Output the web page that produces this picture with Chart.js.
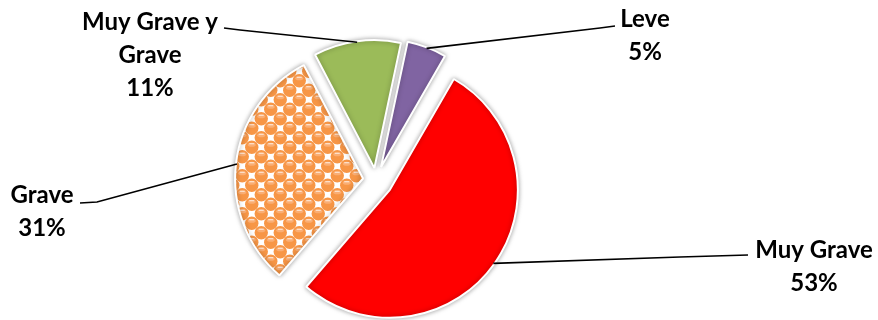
<!DOCTYPE html>
<html><head><meta charset="utf-8">
<script src="https://cdn.jsdelivr.net/npm/chart.js@4"></script>
<style>html,body{margin:0;padding:0;background:#fff}#wrap{width:878px;height:320px;position:relative}</style>
</head><body><div id="wrap"><canvas id="c" width="878" height="320"></canvas></div>
<script>
// ---- data ----
const categories = ['Leve', 'Muy Grave', 'Grave', 'Muy Grave y Grave'];
const labelLines = [['Leve'], ['Muy Grave'], ['Grave'], ['Muy Grave y', 'Grave']];
const values = [5, 53, 31, 11];

// ---- style / layout ----
const colors = ['#8064A2', '#FF0000', 'PATTERN', '#9BBB59'];
const explode = [14, 17, 13, 12];           // slice displacement along its mid angle (px)
const labelLayout = [
  {x: 645, y: 27, pts: [[600, 28], [615, 26]]},
  {x: 814, y: 258, pts: [[680, 257], [748, 255]]},
  {x: 42,  y: 203, pts: [[97, 202], [80, 203]]},
  {x: 150, y: 30,  pts: [[240, 30], [224, 28]]}
];
const FONT = 'bold 24px Lato, "Open Sans", sans-serif';
const LINE_H = 33;

function makePattern() {
  const s = 19;
  const h = s / 2;
  const cv = document.createElement('canvas');
  cv.width = s; cv.height = s;
  const g = cv.getContext('2d');
  g.fillStyle = '#ffffff';
  g.fillRect(0, 0, s, s);
  const centers = [];
  [[h + h / 2, h / 2], [h / 2, h + h / 2]].forEach(([cx, cy]) => {
    for (let dx = -s; dx <= s; dx += s) for (let dy = -s; dy <= s; dy += s) centers.push([cx + dx, cy + dy]);
  });
  centers.forEach(([cx, cy]) => {
    g.beginPath(); g.arc(cx, cy, 6.7, 0, Math.PI * 2);
    g.fillStyle = '#F79646'; g.fill();
  });
  centers.forEach(([cx, cy]) => {
    g.beginPath(); g.ellipse(cx, cy - 2.5, 4, 2, 0, 0, Math.PI * 2);
    g.fillStyle = '#FAAE74'; g.fill();
    g.fillStyle = 'rgba(255,255,255,0.8)';
    g.fillRect(cx - 2.5, cy - 4, 5, 1);
  });
  const ctx = document.getElementById('c').getContext('2d');
  return ctx.createPattern(cv, 'repeat');
}
const pattern = makePattern();
const bg = colors.map(c => c === 'PATTERN' ? pattern : c);

const total = values.reduce((a, b) => a + b, 0);
const rotationDeg = 12;

const decorPlugin = {
  id: 'decor',
  afterDatasetUpdate(chart, args) {
    const meta = chart.getDatasetMeta(args.index);
    meta.data.forEach((arc, i) => {
      const mid = (arc.startAngle + arc.endAngle) / 2;
      arc.x = arc.x + Math.cos(mid) * explode[i];
      arc.y = arc.y + Math.sin(mid) * explode[i];
    });
  },
  beforeDatasetsDraw(chart) {
    const ctx = chart.ctx;
    ctx.save();
    ctx.shadowColor = 'rgba(0,0,0,0.35)';
    ctx.shadowBlur = 5;
  },
  afterDatasetsDraw(chart) {
    const ctx = chart.ctx;
    ctx.restore();
    const meta = chart.getDatasetMeta(0);
    meta.data.forEach((arc, i) => {
      const mid = (arc.startAngle + arc.endAngle) / 2;
      const ax = arc.x + Math.cos(mid) * (arc.outerRadius - 1);
      const ay = arc.y + Math.sin(mid) * (arc.outerRadius - 1);
      const L = labelLayout[i];
      ctx.save();
      ctx.strokeStyle = '#000';
      ctx.lineWidth = 1.6;
      ctx.beginPath();
      ctx.moveTo(ax, ay);
      L.pts.forEach(([x, y]) => ctx.lineTo(x, y));
      ctx.stroke();
      ctx.fillStyle = '#000';
      ctx.font = FONT;
      ctx.textAlign = 'center';
      const lines = labelLines[i].concat([Math.round(values[i] / total * 100) + '%']);
      lines.forEach((t, k) => ctx.fillText(t, L.x, L.y + k * LINE_H));
      ctx.restore();
    });
  }
};

new Chart(document.getElementById('c'), {
  type: 'pie',
  data: {
    labels: categories,
    datasets: [{
      data: values,
      backgroundColor: bg,
      borderColor: '#ffffff',
      borderWidth: 2,
      offset: 0,
      hoverOffset: 0,
      radius: 128
    }]
  },
  options: {
    responsive: false,
    animation: false,
    events: [],
    rotation: rotationDeg,
    layout: {padding: {left: 0, right: 126, top: 40, bottom: 0}},
    plugins: {legend: {display: false}, tooltip: {enabled: false}}
  },
  plugins: [decorPlugin]
});
</script>
</body></html>
